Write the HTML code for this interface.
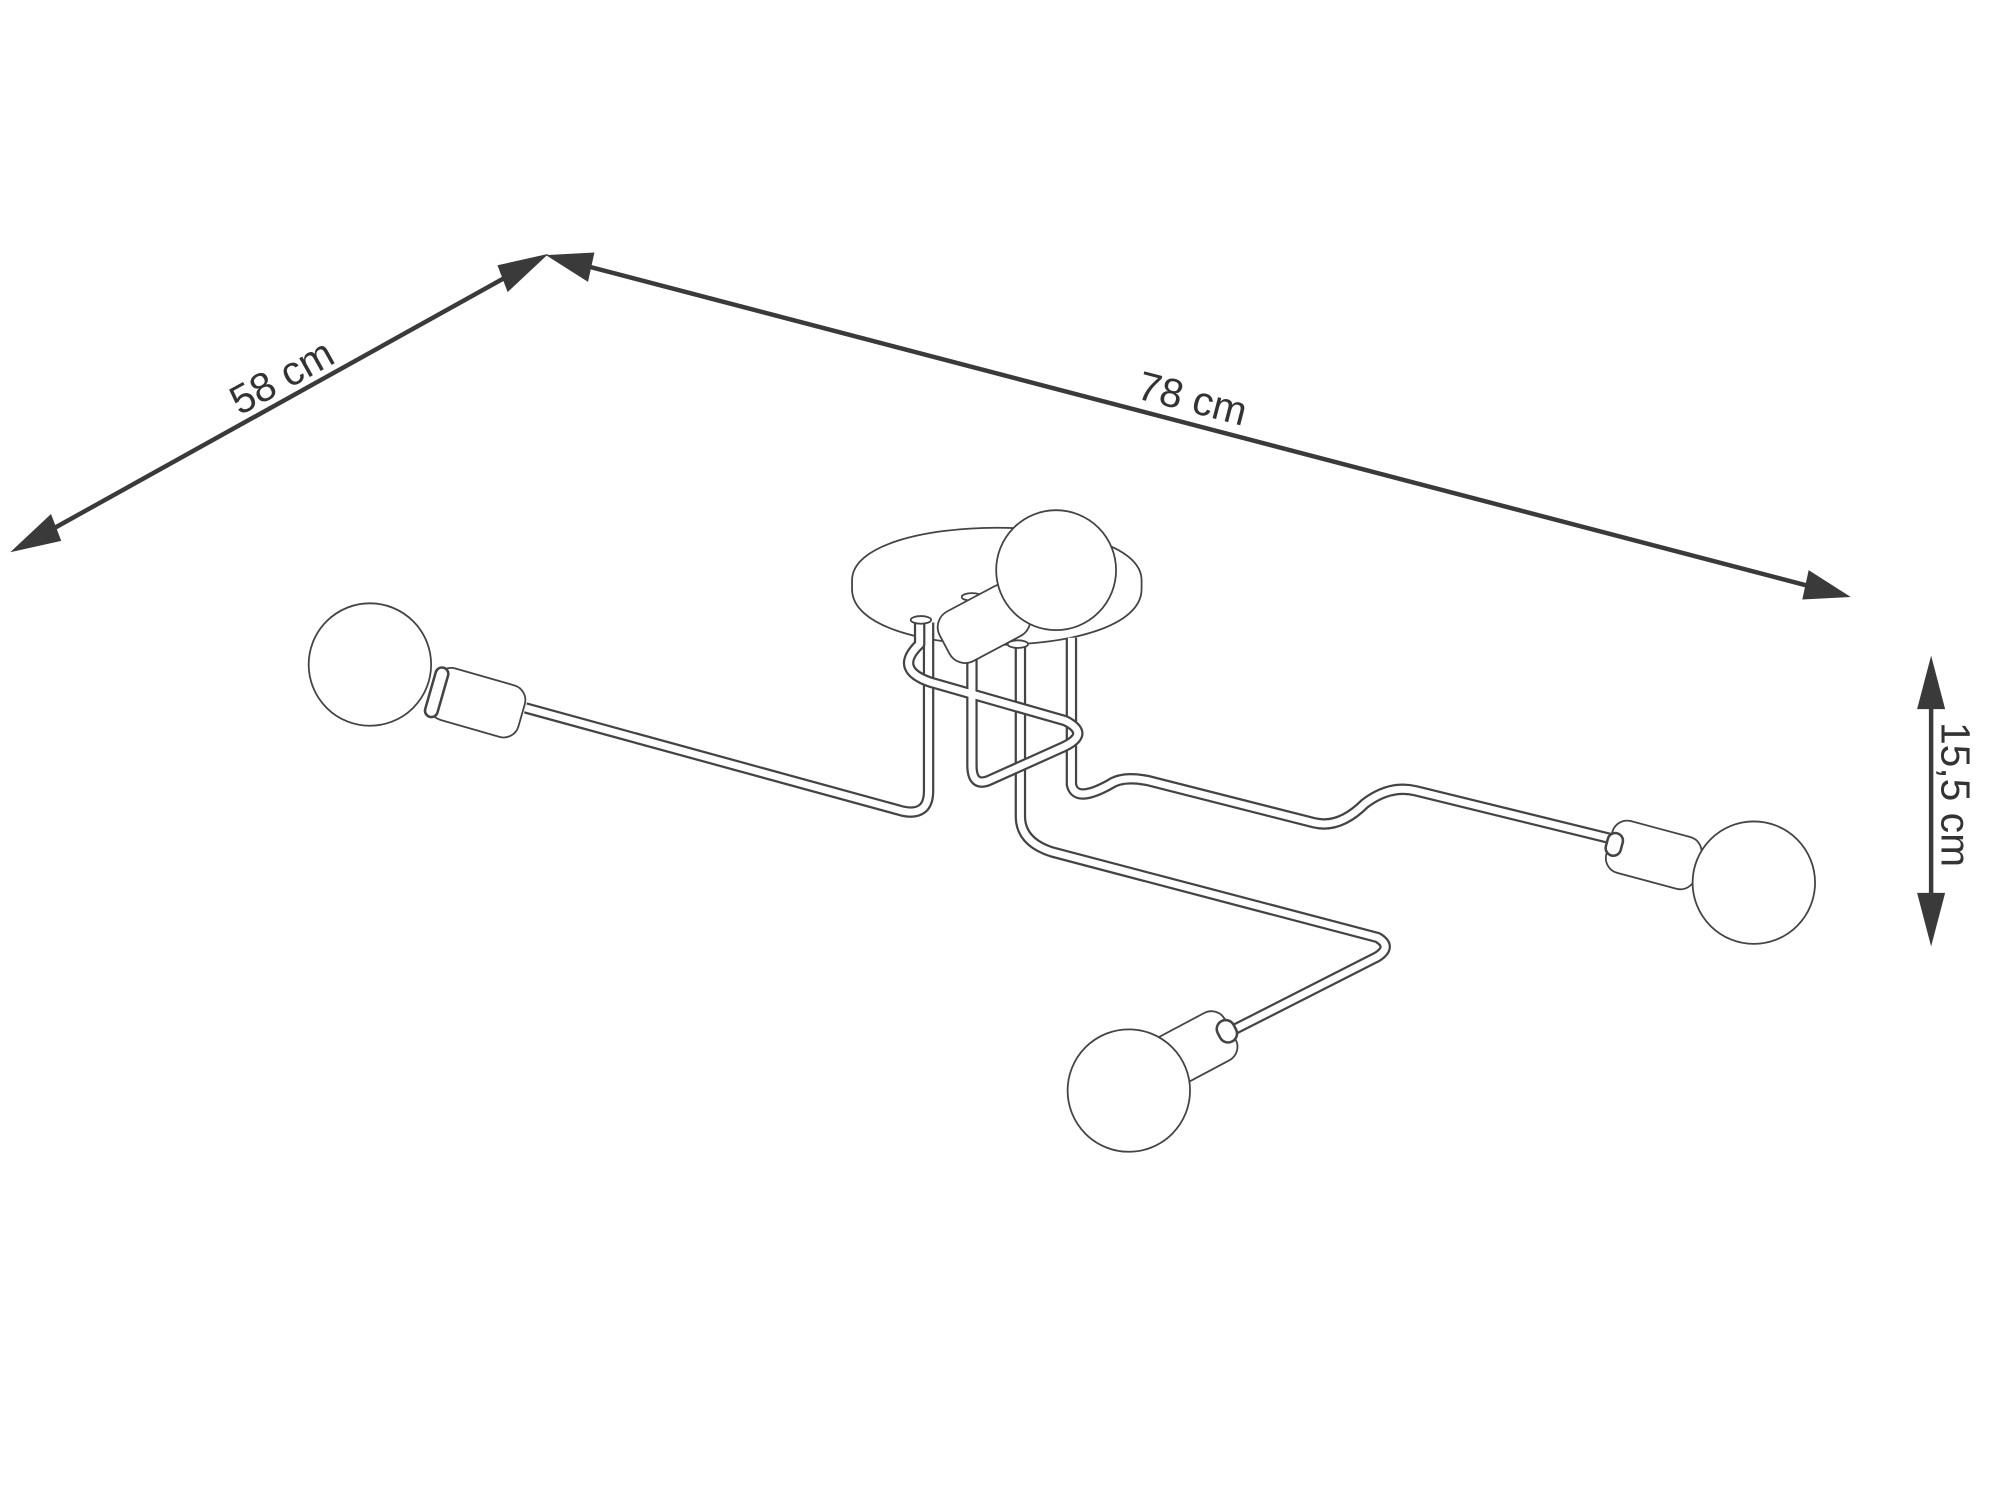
<!DOCTYPE html>
<html><head><meta charset="utf-8"><style>
html,body{margin:0;padding:0;background:#fff;}
svg{display:block;}
text{font-family:"Liberation Sans",sans-serif;fill:#333;font-size:32px;}
</style></head><body>
<svg width="2000" height="1500" viewBox="0 0 1568 1176" xmlns="http://www.w3.org/2000/svg">
<g fill="#3a3a3a" stroke="#3a3a3a">
<line x1="30" y1="421" x2="408" y2="211" stroke-width="3.5"/>
<polygon points="8,433 40,403 48,424" stroke="none"/>
<polygon points="430,199 398,229 390,208" stroke="none"/>
<line x1="450" y1="206" x2="1428" y2="462" stroke-width="3.5"/>
<polygon points="428,200 466,198 461,221" stroke="none"/>
<polygon points="1451,468 1413,470 1418,447" stroke="none"/>
<line x1="1514" y1="540" x2="1514" y2="718" stroke-width="3.5"/>
<polygon points="1514,514 1525,556 1503,556" stroke="none"/>
<polygon points="1514,742 1525,700 1503,700" stroke="none"/>
</g>
<text transform="translate(188,326) rotate(-29)">58 cm</text>
<text transform="translate(890,312) rotate(14.6)">78 cm</text>
<text transform="translate(1522,566) rotate(90)">15,5 cm</text>

<g stroke="#444" fill="#fff" stroke-width="1.4">
<path d="M668,455 C668,400 895,400 895,455 L895,462 C895,520 668,520 668,462 Z"/>
<g fill="none" stroke-linejoin="round">
<g stroke="#444" stroke-width="9">
<path d="M728,488 L728,620 Q728,640 708,636 L412,555"/>
<path d="M800,505 L800,640 Q800,660 825,668 L1080,735 Q1092,742 1080,750 L962,810"/>
<path d="M840,500 L840,615 Q843,630 870,615 Q880,608 900,612 L1030,645 Q1050,650 1070,630 Q1090,615 1110,620 L1265,658"/>
</g>
<g stroke="#fff" stroke-width="5.5">
<path d="M728,488 L728,620 Q728,640 708,636 L412,555"/>
<path d="M800,505 L800,640 Q800,660 825,668 L1080,735 Q1092,742 1080,750 L962,810"/>
<path d="M840,500 L840,615 Q843,630 870,615 Q880,608 900,612 L1030,645 Q1050,650 1070,630 Q1090,615 1110,620 L1265,658"/>
</g>
<path stroke="#444" stroke-width="9" d="M721,488 L721,505 Q700,525 730,535 L835,565 Q855,575 835,585 L775,612 Q762,617 762,600 L762,470"/>
<path stroke="#fff" stroke-width="5.5" d="M721,488 L721,505 Q700,525 730,535 L835,565 Q855,575 835,585 L775,612 Q762,617 762,600 L762,470"/>
</g>
<ellipse cx="722" cy="486" rx="8" ry="3"/>
<ellipse cx="798" cy="505" rx="8" ry="3"/>
<ellipse cx="762" cy="468" rx="8" ry="3"/>
<g transform="translate(760,495) rotate(-28)">
<rect x="-22" y="-22" width="70" height="44" rx="14"/>
</g>
<circle cx="828" cy="447" r="47"/>
<g transform="translate(340,540) rotate(16)">
<rect x="0" y="-20" width="72" height="42" rx="12"/>
<rect x="-2" y="-18" width="10" height="40" rx="5" stroke-width="2"/>
</g>
<circle cx="290" cy="521" r="48"/>
<g transform="translate(1262,660) rotate(15)">
<rect x="0" y="-20" width="72" height="42" rx="12"/>
<rect x="-2" y="-8" width="12" height="18" rx="6" stroke-width="2"/>
</g>
<circle cx="1375" cy="692" r="48"/>
<g transform="translate(965,808) rotate(152)">
<rect x="0" y="-20" width="72" height="42" rx="12"/>
<rect x="-4" y="-8" width="14" height="18" rx="7" stroke-width="2"/>
</g>
<circle cx="885" cy="855" r="48"/>
</g>
</svg>
</body></html>
